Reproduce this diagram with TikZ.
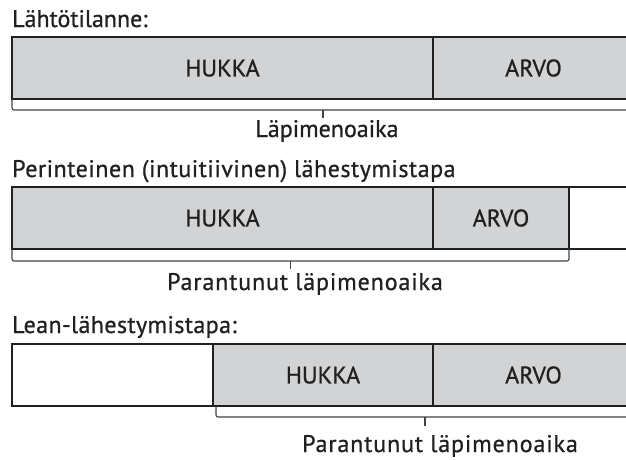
\documentclass[tikz,border=0pt]{standalone}
\usepackage{fontspec}
\setmainfont{PT Sans}[FakeBold=0.8]
\usetikzlibrary{calc}
\definecolor{ink}{HTML}{231F20}
\definecolor{fillgray}{HTML}{D1D3D4}
\newcommand{\spaced}[2]{{\addfontfeature{LetterSpace=#1}#2}}
\begin{document}
\begin{tikzpicture}[x=1pt,y=-1pt,
  every node/.style={text=ink, font=\fontsize{24}{27}\selectfont},
  heading/.style={anchor=base west, inner sep=0pt},
  cell/.style={draw=ink, line width=1.2pt, anchor=north west, minimum height=62pt, inner sep=0pt, outer sep=0pt},
  graycell/.style={cell, fill=fillgray},
  frame/.style={draw=ink, line width=1.2pt},
  brk/.style={draw=ink!85, line width=1.1pt, rounded corners=2pt},
  tick/.style={draw=ink!85, line width=1.1pt},
  span/.style={anchor=base, inner sep=0pt}]
\useasboundingbox (0,0) rectangle (626,459);
\clip (0,0) rectangle (626,459);

% --- first row: starting situation
\node[heading] (t1) at (12,27) {Lähtötilanne:};
\node[graycell, minimum width=421pt] (w1) at (12,37) {HUKKA};
\node[graycell, minimum width=201pt] (v1) at (w1.north east) {ARVO};
\draw[brk] (w1.south west) -- ($(w1.south west)+(0,11)$) -- ($(v1.south east)+(0,11)$) -- (v1.south east);
\coordinate (m1) at ($(w1.south west)!0.5!(v1.south east)+(0,11)$);
\draw[tick] (m1) -- ++(0,8);
\node[span] (l1) at (327,137) {Läpimenoaika};

% --- second row: traditional approach
\node[heading] (t2) at (12,177) {\spaced{2.2}{Perinteinen (intuitiivinen) lähestymistapa}};
\node[graycell, minimum width=421pt] (w2) at (12,187) {HUKKA};
\node[graycell, minimum width=136pt] (v2) at (w2.north east) {ARVO};
\draw[frame] (v2.north east) -- ++(65,0) |- (v2.south east);
\draw[brk] (w2.south west) -- ($(w2.south west)+(0,12)$) -- ($(v2.south east)+(0,12)$) -- (v2.south east);
\coordinate (m2) at ($(w2.south west)!0.5!(v2.south east)+(0,12)$);
\draw[tick] (m2) -- ++(0,8);
\node[span] (l2) at (305,290) {\spaced{3.7}{Parantunut läpimenoaika}};

% --- third row: lean approach
\node[heading] (t3) at (12,333) {\spaced{1.7}{Lean-lähestymistapa:}};
\node[cell, minimum width=201pt] (e3) at (12,344) {};
\node[graycell, minimum width=220pt] (w3) at (e3.north east) {HUKKA};
\node[graycell, minimum width=201pt] (v3) at (w3.north east) {ARVO};
\draw[brk] ($(w3.south west)+(3,0)$) -- ($(w3.south west)+(3,11)$) -- ($(v3.south east)+(0,11)$) -- (v3.south east);
\coordinate (m3) at ($(w3.south west)!0.5!(v3.south east)+(1.5,11)$);
\draw[tick] (m3) -- ++(0,9);
\node[span] (l3) at (440,452) {\spaced{3.7}{Parantunut läpimenoaika}};
\end{tikzpicture}
\end{document}
